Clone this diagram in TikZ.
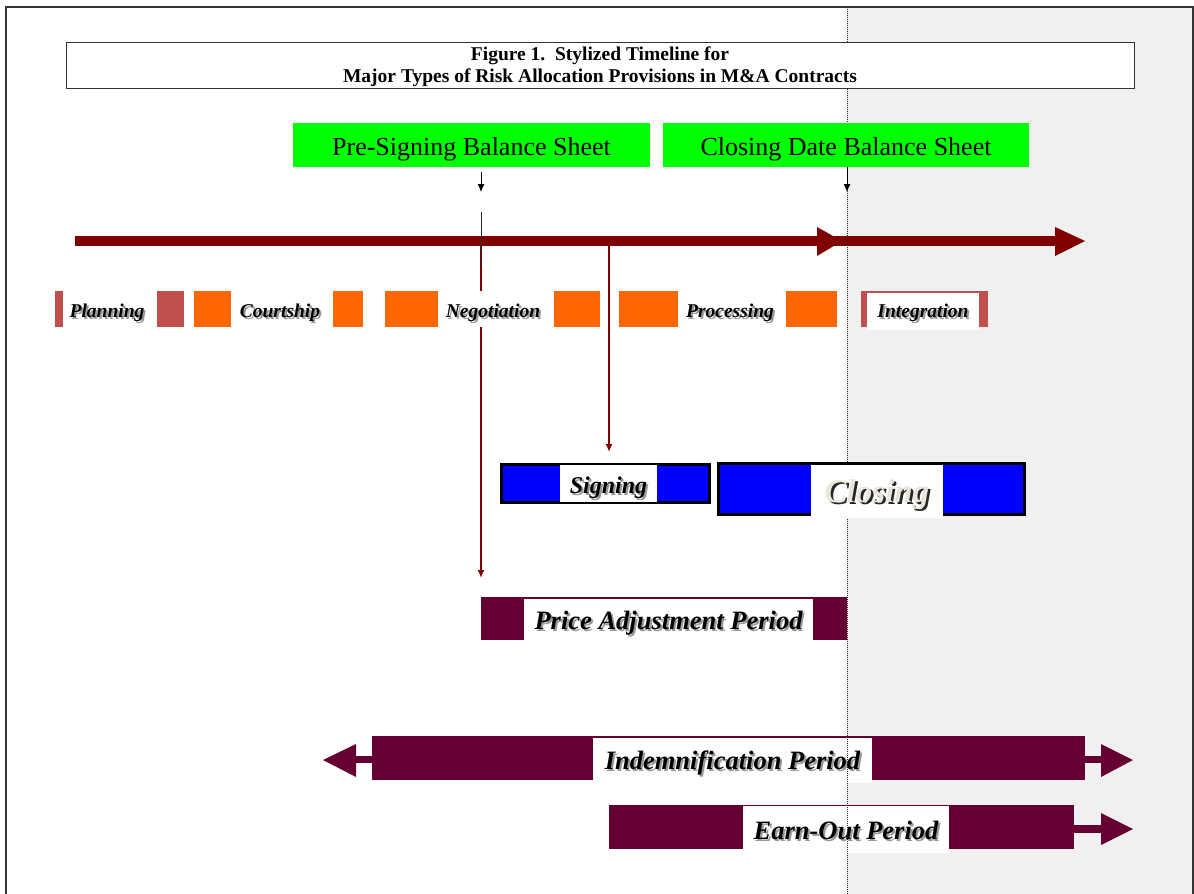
\documentclass[tikz,border=0pt]{standalone}
\usepackage{fontspec}
\setmainfont{Liberation Serif}
\usetikzlibrary{arrows,arrows.meta,shadows}

\definecolor{tlred}{HTML}{800000}
\definecolor{plancol}{HTML}{C0504D}
\definecolor{orng}{HTML}{FF6600}
\definecolor{sheetgreen}{HTML}{00FF00}
\definecolor{sigblue}{HTML}{0000FF}
\definecolor{periodcol}{HTML}{660033}
\definecolor{bggray}{HTML}{F0F0F0}
\definecolor{lightlbl}{HTML}{EAE6DC}

% lower a text inside its box, keeping the box size
\newcommand{\sinktext}[2]{\raisebox{#1}[\height][\depth]{#2}}
% text with a soft offset shadow
\newcommand{\shd}[2][-5pt]{\sinktext{#1}{\makebox[0pt][l]{\hspace{2pt}\raisebox{-2pt}{\textcolor{black!40}{#2}}}#2}}
\newcommand{\shdlight}[1]{\sinktext{-4pt}{\makebox[0pt][l]{\hspace{2.4pt}\raisebox{-2.4pt}{\textcolor{black!85}{#1}}}\textcolor{lightlbl}{#1}}}

\tikzset{
  lbl/.style={fill=white, inner sep=0pt, minimum height=36pt,
    font=\bfseries\itshape\fontsize{19.5}{19.5}\selectfont},
  periodlbl/.style={fill=white, inner sep=0pt,
    font=\bfseries\itshape\fontsize{26.5}{26.5}\selectfont},
  sheet/.style={fill=sheetgreen, minimum height=44pt, inner sep=0pt,
    font=\fontsize{26}{26}\selectfont},
  titlebox/.style={draw=black!80, fill=white, line width=0.8pt, align=center,
    minimum width=1068pt, minimum height=46pt, inner sep=0pt,
    drop shadow={shadow xshift=1.2pt, shadow yshift=-1.2pt, fill=black!75, opacity=1},
    font=\bfseries\fontsize{19.5}{22}\selectfont},
  dropline/.style={tlred, line width=1.6pt},
  tip/.style={-{Latex[length=8pt, width=7pt]}}
}

\begin{document}
\begin{tikzpicture}[>=latex, x=1pt, y=-1pt]
%	\draw [help lines, step=50] (0,0) grid (1194,894);
	\useasboundingbox (0,0) rectangle (1194,894);
	\fill [bggray] (847,7) rectangle (1193,894);
	\draw [black!80, line width=1.3pt] (6,894) -- (6,7) -- (1193,7) -- (1193,894);

	% timeline
	\coordinate (tlstart) at (75,241);
	\coordinate (tlend) at (1060,241);
	\draw [tlred, line width=10pt] (tlstart) -- (tlend);
	\fill [tlred] (817,227) -- (842,241) -- (817,256) -- cycle;
	\fill [tlred] (1055,227) -- (1085,241) -- (1055,256) -- cycle;

	% drops from the timeline
	\coordinate (negdrop) at (481,246);
	\coordinate (pricetop) at (481,578);
	\coordinate (procdrop) at (609,246);
	\coordinate (signtop) at (609,452);
	\draw [tip, dropline] (negdrop) -- (pricetop);
	\draw [tip, dropline] (procdrop) -- (signtop);
	\coordinate (tickup) at (481,212);
	\coordinate (tickdown) at (481,268);
	\draw [black!85, line width=1pt] (tickup) -- (tickdown);

	% phases
	\fill [plancol] (55,291) rectangle (63,327);
	\fill [plancol] (157,291) rectangle (184,327);
	\fill [orng] (194,291) rectangle (231,327);
	\fill [orng] (333,291) rectangle (363,327);
	\fill [orng] (385,291) rectangle (438,327);
	\fill [orng] (554,291) rectangle (600,327);
	\fill [orng] (619,291) rectangle (678,327);
	\fill [orng] (786,291) rectangle (837,327);
	\fill [plancol] (861,291) rectangle (988,327);
	\node [lbl] (planning) at (107,309) {\shd{Planning}};
	\node [lbl] (courtship) at (280,309) {\shd{Courtship}};
	\node [lbl, minimum width=104pt] (negotiation) at (493,309) {\shd{Negotiation}};
	\node [lbl] (processing) at (730,309) {\shd{Processing}};
	\node [lbl, minimum width=112pt, minimum height=37pt] (integration) at (923,311) {\shd[-3pt]{Integration}};

	% periods
	\fill [periodcol] (481,597) rectangle (847,640);
	\node [periodlbl, minimum width=289pt, minimum height=41pt] (price) at (668.5,619.5) {\shd{Price Adjustment Period}};

	\fill [periodcol] (355,756) rectangle (1101,763);
	\fill [periodcol] (323,760) -- (356,744) -- (356,777) -- cycle;
	\fill [periodcol] (1101,744) -- (1133,760) -- (1101,777) -- cycle;
	\fill [periodcol] (372,736) rectangle (1085,780);
	\node [periodlbl, minimum width=279pt, minimum height=45pt] (indemnification) at (732.5,760.5) {\shd[-3pt]{Indemnification Period}};

	\fill [periodcol] (1060,825) rectangle (1101,833);
	\fill [periodcol] (1101,813) -- (1133,829) -- (1101,845) -- cycle;
	\fill [periodcol] (609,805) rectangle (1074,849);
	\node [periodlbl, minimum width=206pt, minimum height=47pt] (earnout) at (846,829.5) {\shd[-2pt]{Earn-Out Period}};

	% closing date divider
	\draw [black!85, line width=0.9pt, dash pattern=on 1.2pt off 0.8pt] (847,7) -- (847,894);

	\node [titlebox] (title) at (600,65) {\sinktext{-2pt}{Figure 1.\ \ Stylized Timeline for}\\\sinktext{-2pt}{Major Types of Risk Allocation Provisions in M\&A Contracts}};

	% balance sheets
	\node [sheet, minimum width=357pt] (presheet) at (471.5,145) {\sinktext{-4pt}{Pre-Signing Balance Sheet}};
	\node [sheet, minimum width=366pt] (closesheet) at (846,145) {\sinktext{-4pt}{Closing Date Balance Sheet}};
	\coordinate (prearrow) at (481,172);
	\coordinate (prehead) at (481,192);
	\coordinate (closehead) at (847,192);
	\draw [tip, line width=0.9pt] (prearrow) -- (prehead);
	\draw [tip, line width=0.9pt] (closesheet.south -| closehead) -- (closehead);

	% signing and closing
	\draw [line width=3pt, fill=sigblue] (501.5,464.5) rectangle (709.5,502.5);
	\node [periodlbl, minimum width=97pt, minimum height=37pt, font=\bfseries\itshape\fontsize{24}{24}\selectfont] (signing) at (608.5,483.5) {\shd{Signing}};
	\draw [line width=3pt, fill=sigblue] (718.5,463.5) rectangle (1024.5,514.5);
	\node [periodlbl, minimum width=132pt, minimum height=53pt, font=\bfseries\itshape\fontsize{33}{33}\selectfont] (closing) at (877,491.5) {\shdlight{Closing}};
\end{tikzpicture}
\end{document}
